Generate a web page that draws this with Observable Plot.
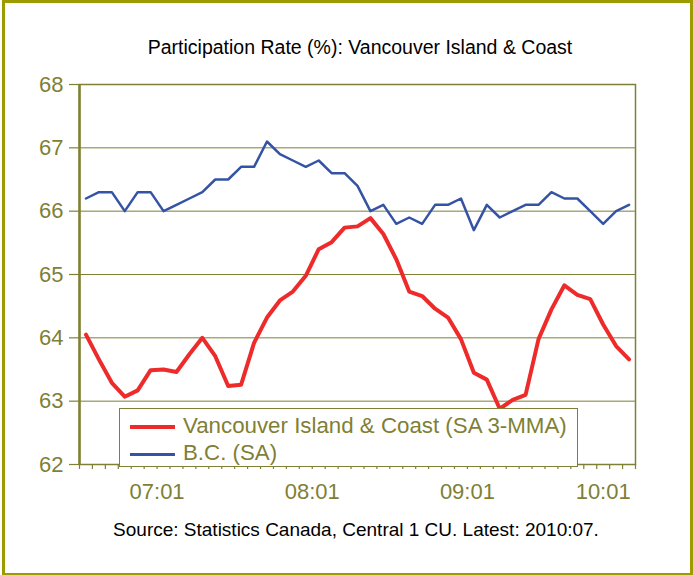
<!DOCTYPE html>
<html>
<head>
<meta charset="utf-8">
<script src="https://cdn.jsdelivr.net/npm/d3@7"></script>
<script src="https://cdn.jsdelivr.net/npm/@observablehq/plot@0.6"></script>
<style>
  html, body { margin: 0; padding: 0; background: #fff; }
  #page { position: relative; width: 693px; height: 575px; font-family: "Liberation Sans", Arial, sans-serif; overflow: hidden; }
  #border { position: absolute; left: 2px; top: 0px; width: 685px; height: 570px; border: 3px solid #9c9c00; box-sizing: content-box; }
  #title { position: absolute; left: 0; width: 720px; top: 36px; text-align: center; font-size: 19.5px; color: #000; }
  #caption { position: absolute; left: 0; width: 712px; top: 519px; text-align: center; font-size: 19px; color: #000; }
  #chart { position: absolute; left: 0; top: 0; }
  #legend { position: absolute; left: 119px; top: 408px; width: 457px; height: 57px; border: 1.5px solid #7f7f35; background: #fff; }
  .li { position: absolute; left: 10px; height: 26px; font-size: 22.3px; color: #7f7f35; white-space: nowrap; }
  .li span.sw { display: inline-block; width: 45px; vertical-align: middle; margin-right: 8px; }
</style>
</head>
<body>
<div id="page">
  <div id="chart"></div>
  <div id="title">Participation Rate (%): Vancouver Island &amp; Coast</div>
  <div id="caption">Source: Statistics Canada, Central 1 CU. Latest: 2010:07.</div>
  <div id="legend"></div>
  <div id="border"></div>
</div>
<script>
// Months 2007:01 .. 2010:07
const months = d3.range(43).map(i => {
  const y = 2007 + Math.floor(i / 12), m = (i % 12) + 1;
  return `${y}:${String(m).padStart(2, "0")}`;
});
const vicCoast = [64.05, 63.66, 63.29, 63.07, 63.17, 63.49, 63.50, 63.46, 63.74, 64.00,
                  63.71, 63.24, 63.26, 63.92, 64.32, 64.59, 64.73, 64.98, 65.40, 65.51,
                  65.74, 65.76, 65.89, 65.64, 65.24, 64.73, 64.66, 64.46, 64.32, 63.98,
                  63.45, 63.34, 62.88, 63.02, 63.10, 63.98, 64.45, 64.83, 64.68, 64.61,
                  64.21, 63.87, 63.66];
const bc = [66.2, 66.3, 66.3, 66.0, 66.3, 66.3, 66.0, 66.1, 66.2, 66.3,
            66.5, 66.5, 66.7, 66.7, 67.1, 66.9, 66.8, 66.7, 66.8, 66.6,
            66.6, 66.4, 66.0, 66.1, 65.8, 65.9, 65.8, 66.1, 66.1, 66.2,
            65.7, 66.1, 65.9, 66.0, 66.1, 66.1, 66.3, 66.2, 66.2, 66.0,
            65.8, 66.0, 66.1];
const seriesNames = ["Vancouver Island & Coast (SA 3-MMA)", "B.C. (SA)"];
const seriesColors = ["#ee2b2b", "#3553a5"];
const yTicks = [62, 63, 64, 65, 66, 67, 68];
const xTickLabels = ["07:01", "08:01", "09:01", "10:01"];
const xTickLabelMonths = ["2007:01", "2008:01", "2009:01", "2010:01"];

const olive = "#7f7f35";
const n = months.length;
const rows = months.map((m, i) => ({ m, x: i + 0.5, vic: vicCoast[i], bc: bc[i] }));
// label centred over its year group (shifted in at the axis end)
const labelPos = xTickLabelMonths.map(m => {
  const i = months.indexOf(m);
  return Math.min(i + 6, (i + n) / 2 + 1);
});

const chart = Plot.plot({
  width: 693,
  height: 500,
  marginTop: 84,
  marginBottom: 36,
  marginLeft: 79,
  marginRight: 58,
  style: { fontFamily: "'Liberation Sans', Arial, sans-serif", background: "transparent", color: olive, overflow: "visible" },
  x: { domain: [0, n], axis: null },
  y: { domain: [62, 68], axis: null },
  marks: [
    Plot.gridY(yTicks, { stroke: olive, strokeOpacity: 1, strokeWidth: 1 }),
    Plot.frame({ stroke: olive, strokeWidth: 1.5 }),
    Plot.ruleX([0], { stroke: olive, strokeWidth: 2.5 }),
    Plot.axisY(yTicks, { tickSize: 10, tickPadding: 6, fontSize: 22, stroke: olive, fill: olive, strokeWidth: 1.2, tickFormat: d => String(d), label: null }),
    Plot.axisX(d3.range(n + 1), { tickSize: 5, tickFormat: () => "", stroke: olive, strokeWidth: 1.2, label: null }),
    Plot.axisX(labelPos, { tickSize: 0, tickPadding: 19, fontSize: 22, fill: olive, tickFormat: (d, i) => xTickLabels[i], label: null }),
    Plot.line(rows, { x: "x", y: "bc", stroke: seriesColors[1], strokeWidth: 2.5 }),
    Plot.line(rows, { x: "x", y: "vic", stroke: seriesColors[0], strokeWidth: 4 })
  ]
});
document.getElementById("chart").appendChild(chart);

const legend = document.getElementById("legend");
seriesNames.forEach((name, i) => {
  const d = document.createElement("div");
  d.className = "li";
  d.style.top = (4 + i * 27) + "px";
  d.innerHTML = `<span class="sw" style="border-top:${i === 0 ? 4 : 3}px solid ${seriesColors[i]}"></span>${name}`;
  legend.appendChild(d);
});
</script>
</body>
</html>
